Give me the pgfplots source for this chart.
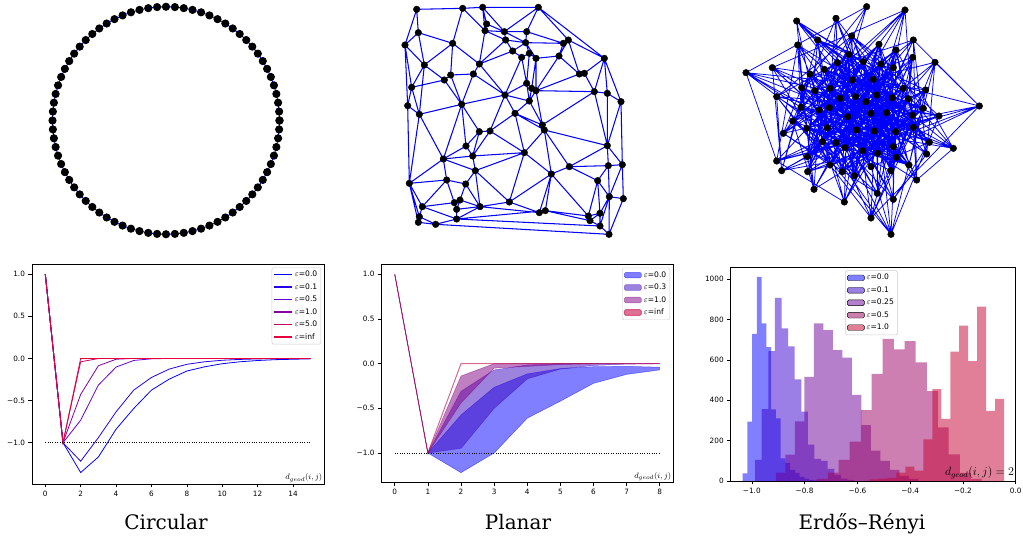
\documentclass[border=0pt]{standalone}
\usepackage{pgfplots}
\pgfplotsset{compat=1.18}
\usepgfplotslibrary{polar}
\usepackage{fontspec}
\newfontfamily\dejavu{DejaVu Sans}
\newfontfamily\dejaserif{DejaVu Serif}
\definecolor{colA}{RGB}{0,0,255}
\definecolor{colB}{RGB}{35,0,235}
\definecolor{colC}{RGB}{100,0,210}
\definecolor{colD}{RGB}{135,0,165}
\definecolor{colE}{RGB}{195,0,100}
\definecolor{colF}{RGB}{230,0,60}
\definecolor{p00}{RGB}{0,0,255}
\definecolor{p03}{RGB}{60,5,190}
\definecolor{p10}{RGB}{130,0,130}
\definecolor{pinf}{RGB}{195,0,65}
\definecolor{h00}{RGB}{0,0,255}
\definecolor{h01}{RGB}{55,0,205}
\definecolor{h025}{RGB}{107,0,153}
\definecolor{h05}{RGB}{153,0,97}
\definecolor{h10}{RGB}{197,0,49}
\pgfplotsset{
  mpl/.style={scale only axis, anchor=south west,
    axis line style={black, line width=0.6pt},
    tick align=outside, major tick length=3.5pt,
    tick style={black, line width=0.6pt},
    tick pos=left,
    ticklabel style={font=\dejavu\fontsize{7.3}{8}\selectfont},
    legend cell align=left,
    legend style={font=\dejavu\fontsize{7.6}{8.5}\selectfont, draw=black!20, rounded corners=1.5pt, inner sep=1.6pt, row sep=1.3pt},
  },
  lineleg/.style={legend image code/.code={\draw[##1, line width=1.4pt] (0pt,0pt) -- (18pt,0pt);}},
  graph/.style={scale only axis, anchor=south west, hide axis, clip=false, unbounded coords=jump}
}
\begin{document}
\begin{tikzpicture}
\path[use as bounding box] (0pt,0pt) rectangle (1023pt,540pt);

% ---------------- Circular graph ----------------
\begin{axis}[scale only axis, hide axis, clip=false, at={(166pt,419.5pt)}, anchor=center,
  width=227pt, height=227.5pt, xmin=-1, xmax=1, ymin=-1, ymax=1, data cs=polar]
\addplot[blue, line width=0.9pt, mark=*, mark size=3.6pt, mark options={black, fill=black, solid}] coordinates {
(0,1) (4.5,1) (9,1) (13.5,1) (18,1) (22.5,1) (27,1) (31.5,1) (36,1) (40.5,1)
(45,1) (49.5,1) (54,1) (58.5,1) (63,1) (67.5,1) (72,1) (76.5,1) (81,1) (85.5,1)
(90,1) (94.5,1) (99,1) (103.5,1) (108,1) (112.5,1) (117,1) (121.5,1) (126,1) (130.5,1)
(135,1) (139.5,1) (144,1) (148.5,1) (153,1) (157.5,1) (162,1) (166.5,1) (171,1) (175.5,1)
(180,1) (184.5,1) (189,1) (193.5,1) (198,1) (202.5,1) (207,1) (211.5,1) (216,1) (220.5,1)
(225,1) (229.5,1) (234,1) (238.5,1) (243,1) (247.5,1) (252,1) (256.5,1) (261,1) (265.5,1)
(270,1) (274.5,1) (279,1) (283.5,1) (288,1) (292.5,1) (297,1) (301.5,1) (306,1) (310.5,1)
(315,1) (319.5,1) (324,1) (328.5,1) (333,1) (337.5,1) (342,1) (346.5,1) (351,1) (355.5,1) (360,1)};
\end{axis}

% ---------------- Planar graph ----------------
\begin{axis}[graph, at={(390pt,295pt)}, width=260pt, height=245pt, xmin=0, xmax=780, ymin=-735, ymax=0]
\addplot[blue, line width=1.05pt] coordinates {
(80,-28) (218,-25) (278,-22) (445,-22) (643,-175) (693,-305) (697,-494) (700,-596) (657,-703) (137,-673) (85,-667) (58,-550) (53,-317) (45,-135) (80,-28) (nan,nan)
(80,-28) (85,-98) (188,-130) (218,-25) (285,-92) (278,-22) (290,-72) (285,-92) (343,-95) (278,-22) (nan,nan)
(445,-22) (343,-95) (nan,nan)
(290,-72) (343,-95) (410,-95) (445,-22) (535,-120) (520,-130) (410,-95) (407,-128) (343,-95) (347,-120) (285,-92) (268,-192) (188,-130) (nan,nan)
(45,-135) (85,-98) (103,-195) (188,-130) (182,-225) (163,-240) (103,-195) (45,-135) (nan,nan)
(45,-135) (65,-262) (103,-195) (88,-343) (65,-262) (53,-317) (88,-343) (nan,nan)
(65,-262) (163,-240) (215,-313) (182,-225) (250,-222) (268,-192) (347,-120) (368,-153) (268,-192) (345,-285) (250,-222) (215,-313) (nan,nan)
(347,-120) (407,-128) (368,-153) (395,-172) (345,-285) (410,-250) (395,-172) (418,-160) (407,-128) (438,-175) (418,-160) (410,-250) (nan,nan)
(407,-128) (520,-130) (507,-168) (438,-175) (438,-272) (425,-265) (410,-250) (418,-303) (438,-272) (nan,nan)
(438,-175) (425,-265) (nan,nan) (418,-303) (425,-265) (nan,nan)
(535,-120) (507,-168) (568,-222) (535,-120) (643,-175) (583,-220) (568,-222) (438,-272) (613,-275) (583,-220) (nan,nan)
(507,-168) (438,-272) (457,-375) (418,-303) (345,-285) (375,-340) (418,-303) (nan,nan)
(375,-340) (457,-375) (nan,nan)
(643,-175) (613,-275) (652,-280) (693,-305) (652,-437) (613,-275) (457,-375) (463,-390) (652,-437) (538,-500) (nan,nan)
(643,-175) (652,-280) (652,-437) (697,-494) (nan,nan)
(652,-437) (655,-497) (nan,nan)
(215,-313) (345,-285) (300,-393) (268,-395) (215,-313) (228,-438) (268,-395) (248,-468) (300,-393) (403,-458) (375,-340) (300,-393) (nan,nan)
(375,-340) (463,-390) (403,-458) (484,-522) (463,-390) (538,-500) (484,-522) (nan,nan)
(88,-343) (215,-313) (160,-477) (88,-343) (58,-550) (160,-477) (228,-438) (248,-468) (160,-477) (256,-512) (248,-468) (403,-458) (256,-512) (358,-606) (403,-458) (nan,nan)
(160,-477) (170,-540) (58,-550) (97,-620) (170,-540) (227,-552) (256,-512) (270,-620) (227,-552) (210,-600) (193,-608) (170,-540) (nan,nan)
(88,-650) (97,-620) (193,-608) (200,-628) (210,-600) (270,-620) (200,-628) (200,-657) (270,-620) (358,-606) (448,-638) (484,-522) (466,-632) (448,-638) (nan,nan)
(358,-606) (484,-522) (nan,nan)
(58,-550) (88,-650) (85,-667) (nan,nan)
(88,-650) (137,-673) (200,-657) (97,-620) (nan,nan)
(270,-620) (448,-638) (nan,nan)
(200,-657) (466,-632) (595,-648) (600,-662) (466,-632) (nan,nan)
(200,-657) (630,-678) (600,-662) (nan,nan)
(484,-522) (595,-648) (623,-542) (538,-500) (655,-497) (623,-542) (658,-590) (655,-497) (697,-494) (658,-590) (700,-596) (nan,nan)
(657,-703) (658,-590) (630,-640) (623,-542) (nan,nan)
(595,-648) (630,-640) (600,-662) (630,-678) (630,-640) (nan,nan)
(658,-590) (630,-678) (657,-703)};
\addplot[only marks, mark=*, mark size=3.3pt, black] coordinates {
(80,-28) (218,-25) (278,-22) (445,-22) (290,-72) (285,-92) (85,-98) (343,-95) (410,-95) (45,-135)
(188,-130) (347,-120) (407,-128) (520,-130) (535,-120) (368,-153) (418,-160) (395,-172) (438,-175) (507,-168)
(643,-175) (103,-195) (268,-192) (182,-225) (163,-240) (250,-222) (568,-222) (583,-220) (65,-262) (410,-250)
(425,-265) (438,-272) (345,-285) (613,-275) (652,-280) (693,-305) (53,-317) (215,-313) (418,-303) (88,-343)
(375,-340) (457,-375) (463,-390) (268,-395) (300,-393) (228,-438) (652,-437) (248,-468) (403,-458) (160,-477)
(538,-500) (655,-497) (697,-494) (256,-512) (484,-522) (58,-550) (170,-540) (227,-552) (623,-542) (658,-590)
(700,-596) (97,-620) (210,-600) (193,-608) (200,-628) (270,-620) (358,-606) (448,-638) (466,-632) (595,-648)
(630,-640) (600,-662) (88,-650) (85,-667) (137,-673) (200,-657) (630,-678) (657,-703)};
\end{axis}

% ---------------- Erdos-Renyi graph ----------------
\begin{axis}[graph, at={(730pt,295pt)}, width=260pt, height=245pt, xmin=0, xmax=780, ymin=-735, ymax=0]
\addplot[blue, line width=0.75pt] coordinates {
(410,-20) (215,-263) (230,-385) (482,-512) (615,-187) (748,-318) (443,-460) (525,-30) (255,-272) (292,-383)
(537,-495) (48,-218) (213,-322) (490,-440) (318,-55) (300,-265) (380,-390) (155,-512) (127,-203) (268,-330)
(670,-445) (200,-63) (520,-265) (433,-393) (233,-515) (322,-188) (298,-323) (232,-470) (263,-120) (587,-270)
(497,-395) (560,-540) (400,-185) (423,-340) (500,-472) (365,-108) (140,-290) (550,-382) (252,-568) (453,-192)
(470,-338) (590,-462) (550,-120) (330,-295) (160,-400) (442,-580) (490,-203) (580,-325) (140,-483) (203,-135)
(377,-290) (598,-427) (490,-598) (283,-208) (627,-348) (300,-495) (447,-133) (408,-305) (277,-425) (343,-606)
(240,-222) (353,-350) (423,-500) (498,-150) (440,-285) (318,-428) (423,-654) (367,-240) (547,-346) (337,-515)
(357,-163) (487,-293) (345,-443) (483,-703) (430,-238) (188,-363) (373,-527) (548,-172) (535,-296) (398,-452) (nan,nan)
(410,-20) (268,-330) (252,-568) (408,-305) (373,-527) (300,-265) (500,-472) (283,-208) (345,-443) (48,-218)
(497,-395) (203,-135) (547,-346) (525,-30) (298,-323) (442,-580) (440,-285) (482,-512) (520,-265) (590,-462)
(240,-222) (398,-452) (127,-203) (550,-382) (447,-133) (188,-363) (318,-55) (423,-340) (490,-598) (487,-293)
(537,-495) (587,-270) (140,-483) (367,-240) (443,-460) (322,-188) (160,-400) (498,-150) (230,-385) (200,-63)
(470,-338) (343,-606) (535,-296) (155,-512) (140,-290) (300,-495) (430,-238) (490,-440) (400,-185) (598,-427)
(357,-163) (292,-383) (263,-120) (580,-325) (423,-654) (748,-318) (233,-515) (330,-295) (423,-500) (215,-263)
(670,-445) (453,-192) (277,-425) (548,-172) (380,-390) (365,-108) (627,-348) (483,-703) (213,-322) (560,-540)
(377,-290) (337,-515) (255,-272) (232,-470) (490,-203) (318,-428) (615,-187) (433,-393) (550,-120) (353,-350) (nan,nan)
(410,-20) (48,-218) (520,-265) (423,-340) (160,-400) (300,-495) (423,-654) (548,-172) (255,-272) (268,-330)
(497,-395) (590,-462) (490,-598) (498,-150) (430,-238) (748,-318) (380,-390) (232,-470) (252,-568) (203,-135)
(240,-222) (487,-293) (230,-385) (490,-440) (233,-515) (365,-108) (490,-203) (408,-305) (547,-346) (398,-452)
(537,-495) (200,-63) (400,-185) (330,-295) (627,-348) (318,-428) (373,-527) (525,-30) (127,-203) (587,-270)
(470,-338) (598,-427) (423,-500) (483,-703) (615,-187) (300,-265) (298,-323) (550,-382) (140,-483) (343,-606)
(357,-163) (215,-263) (213,-322) (433,-393) (500,-472) (442,-580) (447,-133) (367,-240) (535,-296) (292,-383)
(670,-445) (560,-540) (550,-120) (283,-208) (440,-285) (188,-363) (443,-460) (155,-512) (263,-120) (453,-192)
(377,-290) (353,-350) (345,-443) (482,-512) (318,-55) (322,-188) (140,-290) (580,-325) (277,-425) (337,-515) (nan,nan)
(410,-20) (330,-295) (443,-460) (203,-135) (213,-322) (300,-495) (127,-203) (353,-350) (233,-515) (367,-240)
(497,-395) (483,-703) (140,-290) (398,-452) (550,-120) (748,-318) (140,-483) (48,-218) (627,-348) (155,-512)
(240,-222) (433,-393) (423,-654) (587,-270) (345,-443) (365,-108) (535,-296) (590,-462) (615,-187) (580,-325)
(537,-495) (283,-208) (380,-390) (343,-606) (520,-265) (318,-428) (263,-120) (487,-293) (500,-472) (548,-172)
(470,-338) (482,-512) (490,-203) (292,-383) (490,-598) (300,-265) (277,-425) (200,-63) (440,-285) (232,-470)
(357,-163) (423,-340) (373,-527) (453,-192) (230,-385) (442,-580) (255,-272) (598,-427) (318,-55) (408,-305)
(670,-445) (498,-150) (298,-323) (337,-515) (400,-185) (188,-363) (252,-568) (215,-263) (160,-400) (525,-30)
(377,-290) (490,-440) (447,-133) (268,-330) (423,-500) (322,-188) (547,-346) (560,-540) (430,-238) (550,-382) (nan,nan)
(365,-108) (440,-285) (345,-443) (490,-203) (470,-338) (423,-500) (300,-265) (433,-393) (498,-150) (535,-296)
(443,-460) (240,-222) (353,-350) (373,-527) (330,-295) (550,-382) (322,-188) (268,-330) (232,-470) (430,-238)
(230,-385) (537,-495) (408,-305) (318,-428) (453,-192) (423,-340) (300,-495) (255,-272) (380,-390) (447,-133)
(487,-293) (398,-452) (283,-208) (580,-325) (337,-515) (520,-265) (497,-395) (357,-163) (213,-322) (490,-440)
(367,-240) (547,-346) (482,-512) (377,-290) (277,-425) (400,-185) (298,-323) (500,-472) (215,-263) (292,-383) (nan,nan)
(365,-108) (255,-272) (470,-338) (398,-452) (498,-150) (520,-265) (353,-350) (490,-440) (322,-188) (377,-290)
(230,-385) (500,-472) (453,-192) (440,-285) (380,-390) (423,-500) (283,-208) (535,-296) (497,-395) (373,-527)
(367,-240) (268,-330) (277,-425) (537,-495) (215,-263) (423,-340) (345,-443) (447,-133) (300,-265) (580,-325)
(443,-460) (357,-163) (330,-295) (547,-346) (232,-470) (400,-185) (408,-305) (292,-383) (300,-495) (490,-203)
(487,-293) (433,-393) (337,-515) (240,-222) (213,-322) (550,-382) (482,-512) (430,-238) (298,-323) (318,-428)};
\addplot[only marks, mark=*, mark size=3.3pt, black] coordinates {
(410,-20) (525,-30) (318,-55) (200,-63) (263,-120) (365,-108) (550,-120) (203,-135) (447,-133) (498,-150)
(357,-163) (548,-172) (615,-187) (48,-218) (127,-203) (322,-188) (400,-185) (453,-192) (490,-203) (283,-208)
(240,-222) (367,-240) (430,-238) (215,-263) (255,-272) (300,-265) (520,-265) (587,-270) (140,-290) (330,-295)
(377,-290) (408,-305) (440,-285) (487,-293) (535,-296) (748,-318) (213,-322) (268,-330) (298,-323) (423,-340)
(470,-338) (580,-325) (627,-348) (353,-350) (547,-346) (188,-363) (230,-385) (292,-383) (380,-390) (433,-393)
(497,-395) (550,-382) (160,-400) (598,-427) (277,-425) (318,-428) (345,-443) (398,-452) (443,-460) (490,-440)
(670,-445) (232,-470) (500,-472) (590,-462) (140,-483) (300,-495) (423,-500) (337,-515) (373,-527) (482,-512)
(537,-495) (155,-512) (233,-515) (560,-540) (252,-568) (442,-580) (490,-598) (343,-606) (423,-654) (483,-703)};
\end{axis}

% ---------------- Circular: correlation lines ----------------
\begin{axis}[mpl, lineleg, at={(32pt,56pt)}, width=292pt, height=220pt,
  xmin=-0.75, xmax=15.75, ymin=-1.49, ymax=1.12,
  xtick={0,2,4,6,8,10,12,14}, xticklabels={0,2,4,6,8,10,12,14},
  ytick={-1,-0.5,0,0.5,1}, yticklabels={−1.0,−0.5,0.0,0.5,1.0},
  legend style={at={(0.99,0.985)}, anchor=north east}]
\addplot[draw=colA, line width=0.8pt] coordinates {(0,1) (1,-1) (2,-1.354) (3,-1.17) (4,-0.84) (5,-0.594) (6,-0.376) (7,-0.246) (8,-0.15) (9,-0.10) (10,-0.063) (11,-0.04) (12,-0.025) (13,-0.015) (14,-0.01) (15,-0.005)};
\addlegendentry{$\varepsilon$=0.0}
\addplot[draw=colB, line width=0.8pt] coordinates {(0,1) (1,-1) (2,-1.22) (3,-0.94) (4,-0.634) (5,-0.376) (6,-0.226) (7,-0.127) (8,-0.07) (9,-0.04) (10,-0.022) (11,-0.012) (12,-0.006) (13,-0.003) (14,-0.002) (15,-0.001)};
\addlegendentry{$\varepsilon$=0.1}
\addplot[draw=colC, line width=0.8pt] coordinates {(0,1) (1,-1) (2,-0.733) (3,-0.317) (4,-0.103) (5,-0.024) (6,-0.005) (7,0) (8,0) (9,0) (10,0) (11,0) (12,0) (13,0) (14,0) (15,0)};
\addlegendentry{$\varepsilon$=0.5}
\addplot[draw=colD, line width=0.8pt] coordinates {(0,1) (1,-1) (2,-0.428) (3,-0.087) (4,-0.01) (5,0) (6,0) (7,0) (8,0) (9,0) (10,0) (11,0) (12,0) (13,0) (14,0) (15,0)};
\addlegendentry{$\varepsilon$=1.0}
\addplot[draw=colE, line width=0.8pt] coordinates {(0,1) (1,-1) (2,-0.04) (3,-0.002) (4,0) (5,0) (6,0) (7,0) (8,0) (9,0) (10,0) (11,0) (12,0) (13,0) (14,0) (15,0)};
\addlegendentry{$\varepsilon$=5.0}
\addplot[draw=colF, line width=0.8pt] coordinates {(0,1) (1,-1) (2,0) (3,0) (4,0) (5,0) (6,0) (7,0) (8,0) (9,0) (10,0) (11,0) (12,0) (13,0) (14,0) (15,0)};
\addlegendentry{$\varepsilon$=inf}
\addplot[black, line width=0.8pt, dash pattern=on 0.8pt off 1.6pt, forget plot] coordinates {(0,-1) (15,-1)};
\node[anchor=south east, inner sep=1.5pt, font=\fontsize{8}{9}\selectfont] at (rel axis cs:1,0) {$d_{geod}(i,j)$};
\end{axis}

% ---------------- Planar: bands ----------------
\begin{axis}[mpl, at={(381.5pt,57.5pt)}, width=291.5pt, height=218pt,
  xmin=-0.4, xmax=8.4, ymin=-1.33, ymax=1.11,
  xtick={0,1,2,3,4,5,6,7,8}, xticklabels={0,1,2,3,4,5,6,7,8},
  ytick={-1,-0.5,0,0.5,1}, yticklabels={−1.0,−0.5,0.0,0.5,1.0},
  legend style={at={(0.99,0.985)}, anchor=north east}]
\addplot[fill=p00, draw=p00, opacity=0.5, line width=0.5pt, area legend] coordinates {(0,1) (1,-1) (2,-0.575) (3,-0.265) (4,-0.115) (5,-0.055) (6,-0.034) (7,-0.03) (8,-0.04) (8,-0.07) (7,-0.12) (6,-0.22) (5,-0.42) (4,-0.61) (3,-1.0) (2,-1.22) (1,-1) (0,1)} -- cycle;
\addlegendentry{$\varepsilon$=0.0}
\addplot[fill=p03, draw=p03, opacity=0.5, line width=0.5pt, area legend] coordinates {(0,1) (1,-1) (2,-0.31) (3,-0.07) (4,-0.015) (5,0) (6,0) (7,0) (8,0) (8,0) (7,-0.005) (6,-0.02) (5,-0.06) (4,-0.17) (3,-0.5) (2,-0.947) (1,-1) (0,1)} -- cycle;
\addlegendentry{$\varepsilon$=0.3}
\addplot[fill=p10, draw=p10, opacity=0.5, line width=0.5pt, area legend] coordinates {(0,1) (1,-1) (2,-0.138) (3,0) (4,0.004) (5,0.003) (6,0.002) (7,0.001) (8,0) (8,0) (7,0) (6,0) (5,-0.01) (4,-0.03) (3,-0.05) (2,-0.44) (1,-1) (0,1)} -- cycle;
\addlegendentry{$\varepsilon$=1.0}
\addplot[fill=pinf, draw=pinf, opacity=0.55, line width=1pt, area legend] coordinates {(0,1) (1,-1) (2,0) (3,0) (4,0) (5,0) (6,0) (7,0) (8,0) (7,0) (6,0) (5,0) (4,0) (3,0) (2,0) (1,-1) (0,1)} -- cycle;
\addlegendentry{$\varepsilon$=inf}
\addplot[black, line width=0.8pt, dash pattern=on 0.8pt off 1.6pt, forget plot] coordinates {(0,-1) (8,-1)};
\node[anchor=south east, inner sep=1.5pt, font=\fontsize{8}{9}\selectfont] at (rel axis cs:1,0) {$d_{geod}(i,j)$};
\end{axis}

% ---------------- Erdos-Renyi: histograms ----------------
\begin{axis}[mpl, at={(730.7pt,59pt)}, width=285pt, height=213.7pt,
  xmin=-1.08, xmax=0.0, ymin=0, ymax=1058,
  xtick={-1,-0.8,-0.6,-0.4,-0.2,0}, xticklabels={−1.0,−0.8,−0.6,−0.4,−0.2,0.0},
  ytick={0,200,400,600,800,1000}, yticklabels={0,200,400,600,800,1000},
  legend style={at={(0.494,0.985)}, anchor=north}]
\addplot[ybar interval, fill=h00, draw=none, fill opacity=0.5, area legend] coordinates {
(-1.035,38) (-1.017,294) (-0.999,728) (-0.981,1010) (-0.963,780) (-0.945,663) (-0.927,355) (-0.909,310) (-0.891,112) (-0.873,90)
(-0.855,55) (-0.837,40) (-0.819,20) (-0.801,12) (-0.783,6) (-0.765,3) (-0.747,0)};
\addlegendentry{$\varepsilon$=0.0}
\addplot[ybar interval, fill=h01, draw=none, fill opacity=0.5, area legend] coordinates {
(-0.9875,104) (-0.9625,356) (-0.9375,643) (-0.9125,907) (-0.8875,755) (-0.8625,667) (-0.8375,503) (-0.8125,344) (-0.7875,180) (-0.7625,110)
(-0.7375,100) (-0.7125,60) (-0.6875,30) (-0.6625,12) (-0.6375,5) (-0.6125,0)};
\addlegendentry{$\varepsilon$=0.1}
\addplot[ybar interval, fill=h025, draw=none, fill opacity=0.5, area legend] coordinates {
(-0.909,41) (-0.873,130) (-0.837,295) (-0.801,516) (-0.765,780) (-0.729,747) (-0.693,648) (-0.657,611) (-0.621,426) (-0.585,277)
(-0.549,150) (-0.513,100) (-0.477,55) (-0.441,25) (-0.405,10) (-0.369,0)};
\addlegendentry{$\varepsilon$=0.25}
\addplot[ybar interval, fill=h05, draw=none, fill opacity=0.5, area legend] coordinates {
(-0.754,10) (-0.712,41) (-0.671,104) (-0.629,195) (-0.587,351) (-0.546,530) (-0.504,703) (-0.462,652) (-0.421,693) (-0.379,587)
(-0.337,445) (-0.295,265) (-0.254,132) (-0.212,40) (-0.170,10) (-0.129,0)};
\addlegendentry{$\varepsilon$=0.5}
\addplot[ybar interval, fill=h10, draw=none, fill opacity=0.5, area legend] coordinates {
(-0.554,8) (-0.520,12) (-0.486,15) (-0.452,41) (-0.418,71) (-0.384,51) (-0.350,206) (-0.316,455) (-0.282,307) (-0.248,640)
(-0.214,769) (-0.180,594) (-0.146,863) (-0.112,347) (-0.078,406) (-0.044,0)};
\addlegendentry{$\varepsilon$=1.0}
\node[anchor=south east, inner sep=1.5pt, font=\fontsize{11.5}{12}\selectfont] at (rel axis cs:1,0) {$d_{geod}(i,j)=2$};
\end{axis}

% ---------------- Titles ----------------
\node[anchor=base, font=\dejaserif\fontsize{20}{24}\selectfont] at (166pt,10pt) {Circular};
\node[anchor=base, font=\dejaserif\fontsize{20}{24}\selectfont] at (518pt,10pt) {Planar};
\node[anchor=base, font=\dejaserif\fontsize{20}{24}\selectfont] at (862pt,10pt) {Erdős–Rényi};
\end{tikzpicture}
\end{document}
